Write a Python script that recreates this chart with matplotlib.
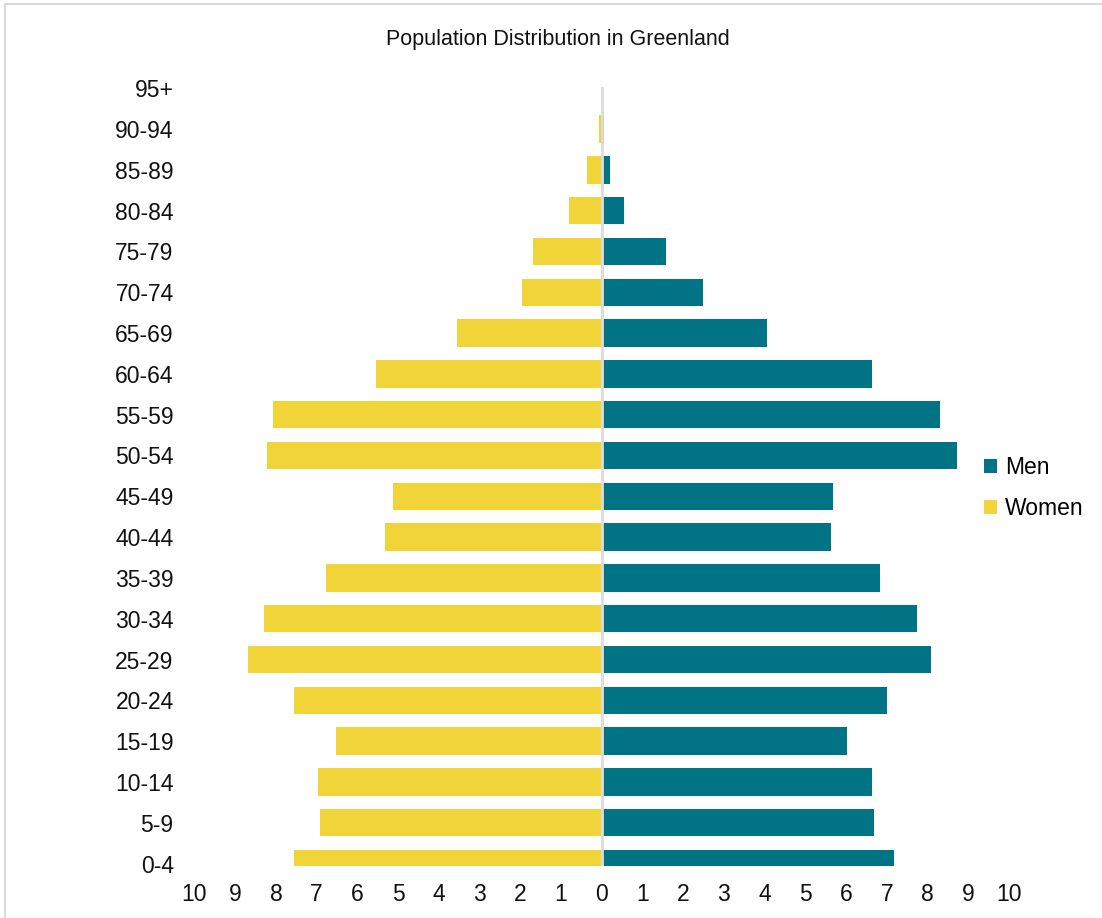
import matplotlib.pyplot as plt
from matplotlib.patches import Rectangle
import numpy as np

plt.rcParams['font.family'] = ['Liberation Sans', 'DejaVu Sans']

# age groups from bottom to top
ages = ['0-4', '5-9', '10-14', '15-19', '20-24', '25-29', '30-34', '35-39',
        '40-44', '45-49', '50-54', '55-59', '60-64', '65-69', '70-74',
        '75-79', '80-84', '85-89', '90-94', '95+']
men = [7.18, 6.68, 6.64, 6.03, 7.01, 8.09, 7.75, 6.84, 5.63, 5.68,
       8.73, 8.31, 6.64, 4.06, 2.48, 1.57, 0.54, 0.20, 0.05, 0.01]
women = [7.55, 6.93, 6.96, 6.52, 7.55, 8.68, 8.29, 6.77, 5.32, 5.12,
         8.22, 8.07, 5.55, 3.55, 1.95, 1.70, 0.80, 0.35, 0.07, 0.02]
xticks = list(range(-10, 11))

men_color = '#007385'
women_color = '#F1D538'

fig = plt.figure(figsize=(11.02, 9.18), dpi=100)
ax = fig.add_axes([194.5/1102, 1 - 866/918, (1009 - 194.5)/1102, (866 - 87)/918])

y = np.arange(len(ages))
ax.barh(y, men, height=0.67, color=men_color, label='Men')
ax.barh(y, -np.array(women), height=0.67, color=women_color, label='Women')
ax.axvline(0, color='#dcdcdc', lw=2, zorder=3)

ax.set_xlim(-10, 10)
ax.set_ylim(-0.06, 19.03)
ax.set_yticks(y, ages)
ax.set_xticks(xticks, [str(abs(t)) for t in xticks])
ax.tick_params(axis='both', length=0, labelsize=16.5, labelcolor='#111111')
ax.tick_params(axis='y', pad=15)
ax.tick_params(axis='x', pad=12)
for s in ax.spines.values():
    s.set_visible(False)

ax.legend(loc='center left', bbox_to_anchor=(973/1102, 1 - 488/918),
          bbox_transform=fig.transFigure, frameon=False, fontsize=16.5,
          handlelength=0.55, handleheight=0.55, handletextpad=0.35,
          labelspacing=0.8, borderpad=0)

fig.text(558/1102, 1 - 40/918, 'Population Distribution in Greenland',
         ha='center', va='center', fontsize=15.5, color='#111111')

fig.add_artist(Rectangle((4.5/1102, -0.1), 1.2, 1 - 3.5/918 + 0.1,
                         transform=fig.transFigure, fill=False,
                         edgecolor='#d9d9d9', lw=1.5))

fig.savefig('out.png', dpi=100)
